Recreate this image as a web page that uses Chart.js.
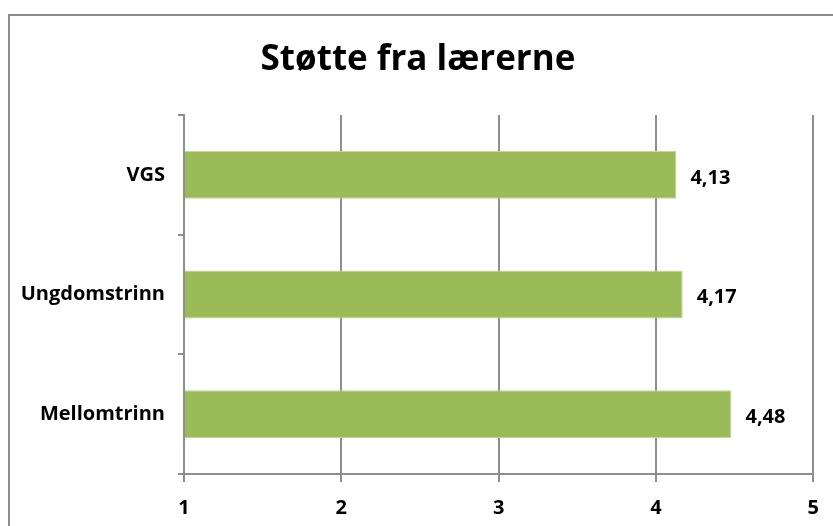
<!DOCTYPE html>
<html>
<head>
<meta charset="utf-8">
<script src="https://cdn.jsdelivr.net/npm/chart.js@4"></script>
<style>
  body { margin: 0; background: #fff; }
  #wrap { width: 833px; height: 526px; }
</style>
</head>
<body>
<div id="wrap"><canvas id="chart"></canvas></div>
<script>
const categories = ['VGS', 'Ungdomstrinn', 'Mellomtrinn'];
const values = [4.13, 4.17, 4.48];
const xTicks = [1, 2, 3, 4, 5];

const fontFamily = '"Open Sans", Lato, sans-serif';
const gridGray = '#8e8e8e';

// frame + title + value labels
const decorations = {
  id: 'decorations',
  beforeDraw(chart) {
    const ctx = chart.ctx;
    ctx.save();
    ctx.fillStyle = '#fff';
    ctx.fillRect(0, 0, chart.width, chart.height);
    ctx.strokeStyle = '#8c8c8c';
    ctx.lineWidth = 2;
    ctx.strokeRect(9, 15, 900, 600);
    ctx.fillStyle = '#000';
    ctx.font = 'bold 35px ' + fontFamily;
    ctx.textAlign = 'center';
    ctx.textBaseline = 'middle';
    ctx.fillText('Støtte fra lærerne', 418, 60);
    ctx.restore();
  },
  afterDatasetsDraw(chart) {
    const ctx = chart.ctx;
    const meta = chart.getDatasetMeta(0);
    ctx.save();
    ctx.fillStyle = '#000';
    ctx.font = 'bold 20px ' + fontFamily;
    ctx.textAlign = 'left';
    ctx.textBaseline = 'middle';
    meta.data.forEach((bar, i) => {
      ctx.fillText(values[i].toFixed(2).replace('.', ','), bar.x + 14, bar.y + 3);
    });
    ctx.restore();
  }
};

new Chart(document.getElementById('chart'), {
  type: 'bar',
  data: {
    labels: categories,
    datasets: [{
      data: values,
      base: 1,
      backgroundColor: '#9bbb59',
      borderColor: '#c3d89a',
      borderWidth: 1,
      barPercentage: 0.4,
      categoryPercentage: 1
    }]
  },
  options: {
    indexAxis: 'y',
    responsive: true,
    maintainAspectRatio: false,
    animation: false,
    layout: { padding: { top: 115, right: 19, bottom: 0, left: 0 } },
    plugins: {
      legend: { display: false },
      title: { display: false },
      tooltip: { enabled: false }
    },
    scales: {
      x: {
        min: 1,
        max: 5,
        afterBuildTicks(scale) { scale.ticks = xTicks.map(v => ({ value: v })); },
        afterFit(scale) { scale.height = 52; },
        grid: { color: gridGray, lineWidth: 2, tickLength: 8 },
        border: { color: gridGray, width: 2 },
        ticks: {
          color: '#000',
          padding: 14,
          font: { family: fontFamily, size: 20, weight: 'bold' }
        }
      },
      y: {
        afterFit(scale) { scale.width = 184; },
        grid: { drawOnChartArea: false, color: gridGray, lineWidth: 2, tickLength: 6, offset: true },
        border: { color: gridGray, width: 2 },
        ticks: {
          color: '#000',
          padding: 13,
          font: { family: fontFamily, size: 20, weight: 'bold' }
        }
      }
    }
  },
  plugins: [decorations]
});
</script>
</body>
</html>
